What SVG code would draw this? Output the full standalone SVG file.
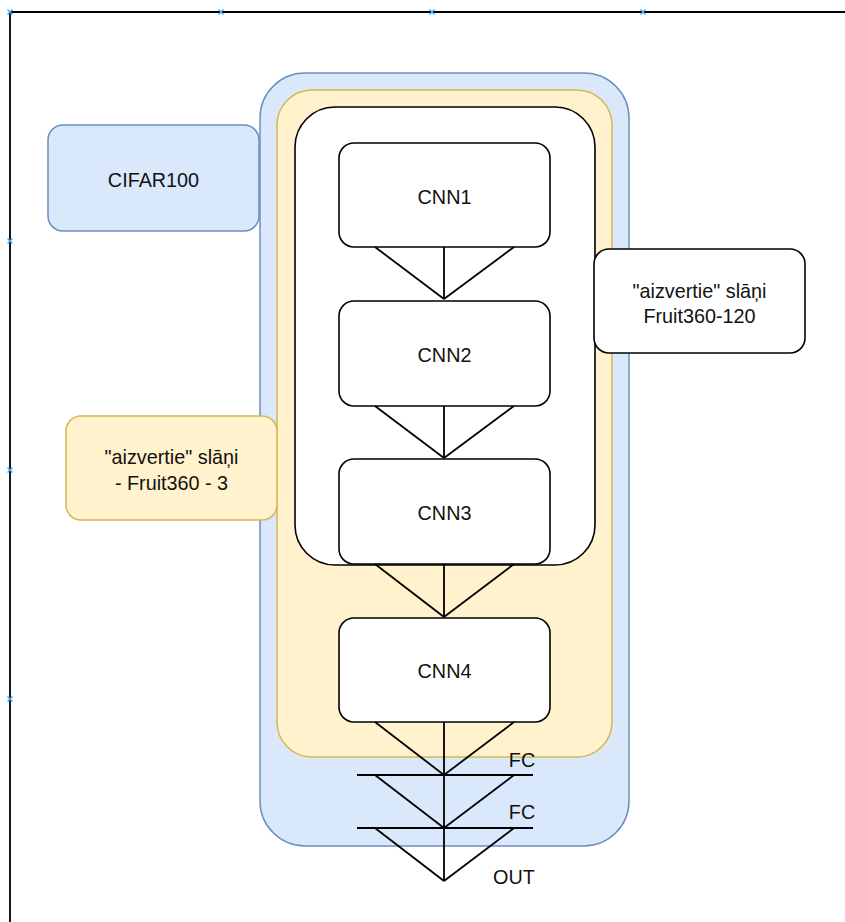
<svg xmlns="http://www.w3.org/2000/svg" width="845" height="922" viewBox="0 0 845 922">
<style>
.t{font-family:"Liberation Sans",Arial,Helvetica,sans-serif;font-size:19.8px;fill:#111;text-anchor:middle}
.box{fill:#fff;stroke:#000;stroke-width:1.6}
.ln{stroke:#000;stroke-width:1.8;fill:none}
.tick{stroke:#3fa9f5;stroke-width:1.4}
</style>
<rect width="845" height="922" fill="#fff"/>
<g id="frame">
<path d="M10 922 V12 H845" fill="none" stroke="#000" stroke-width="1.8"/>
<g class="tick">
<path d="M7.5 9.5 l5 5 M12.5 9.5 l-5 5"/>
<path d="M218.5 9.5 l5 5 M223.5 9.5 l-5 5"/>
<path d="M429.5 9.5 l5 5 M434.5 9.5 l-5 5"/>
<path d="M640.5 9.5 l5 5 M645.5 9.5 l-5 5"/>
<path d="M7.5 238.5 l5 5 M12.5 238.5 l-5 5"/>
<path d="M7.5 467.5 l5 5 M12.5 467.5 l-5 5"/>
<path d="M7.5 696.5 l5 5 M12.5 696.5 l-5 5"/>
</g>
</g>
<g id="blue-container"><rect x="260" y="73" width="369" height="773" rx="45" fill="#dae8fc" stroke="#6c8ebf" stroke-width="1.5"/></g>
<g id="yellow-container"><rect x="277" y="90" width="335" height="667" rx="35" fill="#fff2cc" stroke="#d6b656" stroke-width="1.5"/></g>
<g id="white-container"><rect x="295" y="107" width="300" height="458" rx="40" class="box"/></g>
<g id="cifar"><rect x="48" y="125" width="211" height="106" rx="15" fill="#dae8fc" stroke="#6c8ebf" stroke-width="1.5"/><text class="t" x="153.5" y="187">CIFAR100</text></g>
<g id="label-yellow"><rect x="66" y="416" width="211" height="104" rx="15" fill="#fff2cc" stroke="#d6b656" stroke-width="1.5"/><text class="t" x="171.5" y="464">"aizvertie" slāņi</text><text class="t" x="171.5" y="490">- Fruit360 - 3</text></g>
<g id="label-white"><rect x="594" y="249" width="211" height="104" rx="15" class="box"/><text class="t" x="699.5" y="298">"aizvertie" slāņi</text><text class="t" x="699.5" y="323">Fruit360-120</text></g>
<g id="cnn1"><rect x="339" y="143" width="211" height="104" rx="15" class="box"/><text class="t" x="444.5" y="204">CNN1</text></g>
<g id="cnn2"><rect x="339" y="301" width="211" height="105" rx="15" class="box"/><text class="t" x="444.5" y="362">CNN2</text></g>
<g id="cnn3"><rect x="339" y="459" width="211" height="105" rx="15" class="box"/><text class="t" x="444.5" y="520">CNN3</text></g>
<g id="cnn4"><rect x="339" y="618" width="211" height="104" rx="15" class="box"/><text class="t" x="444.5" y="678">CNN4</text></g>
<g id="connectors" class="ln">
<path d="M375 247 L444 299 M444 247 V299 M514 247 L444 299"/>
<path d="M375 406 L444 458 M444 406 V458 M514 406 L444 458"/>
<path d="M375 564 L444 617 M444 564 V617 M514 564 L444 617"/>
<path d="M375 722 L444 775 M444 722 V775 M514 722 L444 775"/>
<path d="M357 775 H533"/>
<path d="M375 775 L444 828 M444 775 V828 M514 775 L444 828"/>
<path d="M357 828 H533"/>
<path d="M375 828 L444 881 M444 828 V881 M514 828 L444 881"/>
</g>
<g id="fc-labels">
<text class="t" x="522" y="767">FC</text>
<text class="t" x="522" y="819">FC</text>
<text class="t" x="514" y="884">OUT</text>
</g>
</svg>
